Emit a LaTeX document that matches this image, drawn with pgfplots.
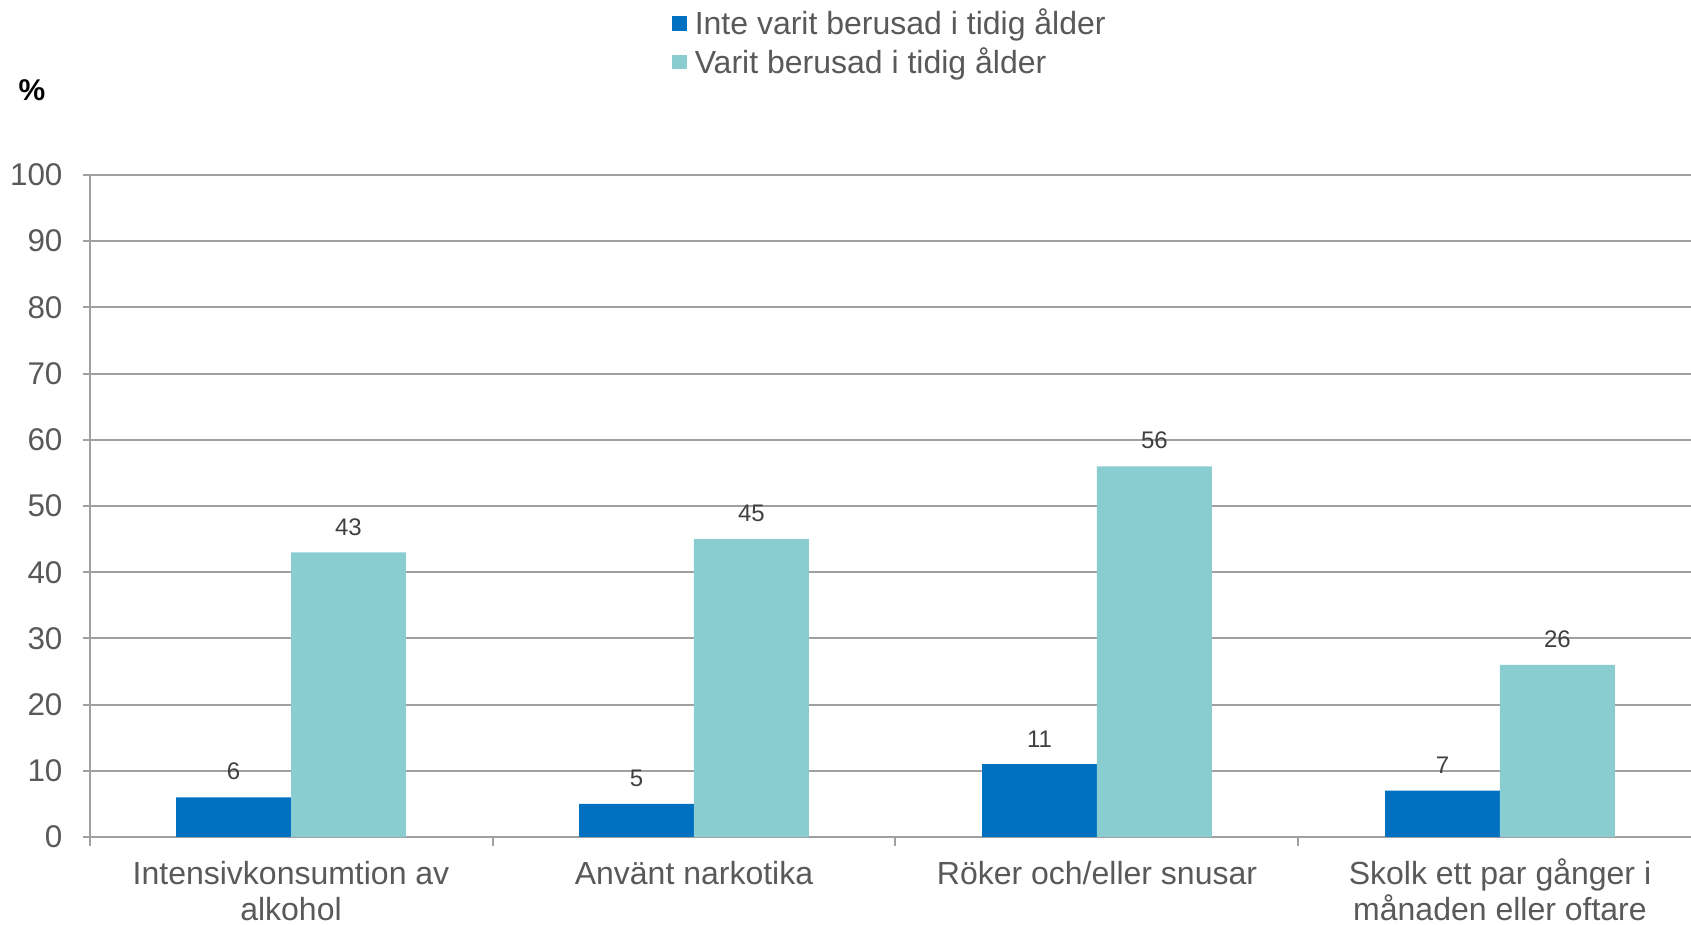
\documentclass[border=0pt]{standalone}
\usepackage{pgfplots}
\pgfplotsset{compat=1.18}
\usepackage{fontspec}
\setmainfont{Liberation Sans}
\definecolor{cblue}{HTML}{0070C0}
\definecolor{ccyan}{HTML}{89CDD1}
\definecolor{gridg}{HTML}{A0A0A0}
\definecolor{txt}{HTML}{595959}
\definecolor{lbl}{HTML}{404040}
\begin{document}
\begin{tikzpicture}
\useasboundingbox (0,0) rectangle (845.5pt,462.5pt);
\begin{axis}[
  at={(44.75pt,44pt)}, anchor=south west,
  width=800.75pt, height=331pt, scale only axis,
  ymin=0, ymax=100, ytick={0,10,...,100},
  xmin=-0.5, xmax=3.474,
  xtick={0,1,2,3},
  xticklabels={{\vphantom{å}Intensivkonsumtion av\\alkohol},{\vphantom{å}Använt narkotika},{\vphantom{å}Röker och/eller snusar},{\vphantom{å}Skolk ett par gånger i\\månaden eller oftare}},
  minor xtick={-0.5,0.5,1.5,2.5},
  major x tick style={draw=none},
  minor x tick style={draw=gridg, line width=1pt},
  y tick style={draw=gridg, line width=1pt},
  tick align=outside,
  major tick length=3.5pt, minor tick length=4.5pt,
  axis x line*=bottom, axis y line*=left,
  axis line style={draw=gridg, line width=1pt, -},
  ymajorgrids, grid style={draw=gridg, line width=1pt},
  /pgf/number format/assume math mode=true,
  ticklabel style={font=\fontsize{15.7}{18}\selectfont, text=txt},
  yticklabel style={xshift=-6.5pt},
  xticklabel style={align=center, font=\fontsize{16}{18.2}\selectfont, yshift=-3.6pt},
  ybar, bar width=0.285,
  nodes near coords,
  every node near coord/.append style={font=\fontsize{12}{13}\selectfont, text=lbl, yshift=5pt},
  legend style={at={(0.3637,1.2575)}, anchor=north west, draw=none, fill=none,
     font=\fontsize{16}{18.4}\selectfont, text=txt, row sep=1pt, inner sep=0pt,
     legend cell align=left, nodes={inner xsep=4pt}},
  legend image code/.code={\fill[#1] (0pt,-3.6pt) rectangle (7.2pt,3.6pt);},
  clip=false,
]
\addplot[fill=cblue, draw=none, bar shift=-0.1425] coordinates {(0,6) (1,5) (2,11) (3,7)};
\addplot[fill=ccyan, draw=none, bar shift=0.1425] coordinates {(0,43) (1,45) (2,56) (3,26)};
\legend{Inte varit berusad i tidig ålder, Varit berusad i tidig ålder}
\end{axis}
\node[font=\bfseries\fontsize{15}{17}\selectfont, text=black] at (16pt,417.5pt) {\%};
\end{tikzpicture}
\end{document}
